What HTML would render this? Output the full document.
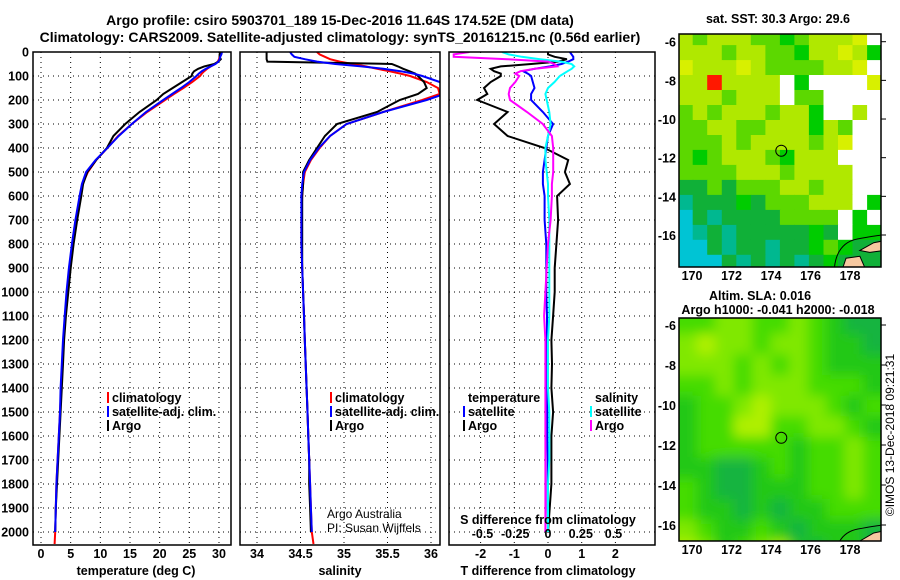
<!DOCTYPE html>
<html><head><meta charset="utf-8"><style>
body{margin:0;background:#fff}
svg{display:block;font-family:"Liberation Sans",sans-serif}
.b{font-weight:bold;font-size:12.5px}
</style></head><body>
<svg id="s" width="900" height="580" viewBox="0 0 900 580" xmlns="http://www.w3.org/2000/svg">
<defs>
<clipPath id="c1"><rect x="33" y="52" width="198" height="493"/></clipPath>
<clipPath id="c2"><rect x="240" y="52" width="200" height="493"/></clipPath>
<clipPath id="c3"><rect x="449" y="52" width="206" height="493"/></clipPath>
<clipPath id="cm1"><rect x="679" y="34" width="202" height="233"/></clipPath>
<clipPath id="cm2"><rect x="679" y="318" width="202" height="223"/></clipPath>
<filter id="bl" x="0" y="0" width="100%" height="100%"><feGaussianBlur stdDeviation="6"/></filter>
</defs>
<text x="340" y="25" text-anchor="middle" font-size="14" font-weight="bold">Argo profile: csiro 5903701_189 15-Dec-2016 11.64S 174.52E (DM data)</text>
<text x="340" y="42" text-anchor="middle" font-size="14" font-weight="bold">Climatology: CARS2009. Satellite-adjusted climatology: synTS_20161215.nc (0.56d earlier)</text>
</svg>
<script>
const depths=[0,10,20,30,40,50,60,70,80,90,100,125,150,175,200,250,300,350,400,450,500,550,600,700,800,900,1000,1100,1200,1300,1400,1500,1600,1700,1800,1900,2000,2050];
const tClim=[30.2,30.2,30.1,30.0,29.8,29.3,28.6,28.0,27.5,27.1,26.8,25.5,24.0,22.4,20.9,17.9,15.3,13.0,11.2,9.3,7.9,7.0,6.6,5.9,5.3,4.8,4.4,4.1,3.8,3.6,3.4,3.2,3.0,2.8,2.6,2.5,2.4,2.3];
const tSat=[30.5,30.4,30.2,30.1,29.9,29.4,28.6,27.8,27.1,26.6,26.2,25.0,23.6,22.1,20.6,17.7,15.3,13.1,11.2,9.2,7.6,6.9,6.5,5.8,5.2,4.7,4.3,4.0,3.7,3.5,3.3,3.2,3.0,2.8,2.6,2.5,2.4,null];
const tArgo=[30.2,30.1,30.1,30.3,29.9,29.2,27.5,26.5,25.8,25.5,25.4,23.8,22.2,20.6,19.5,16.6,14.2,12.2,11.1,9.3,7.8,7.1,6.8,6.1,5.5,5.0,4.6,4.2,3.9,3.7,3.5,3.3,3.1,2.9,2.7,2.5,2.4,null];
const sClim=[34.69,34.72,34.78,34.84,34.95,35.1,35.25,35.38,35.52,35.65,35.76,35.95,36.08,36.1,35.9,35.45,35.03,34.84,34.72,34.62,34.55,34.53,34.52,34.51,34.51,34.52,34.53,34.54,34.55,34.56,34.57,34.58,34.59,34.6,34.61,34.62,34.63,34.65];
const sSat=[34.38,34.4,34.43,34.55,34.69,34.9,35.2,35.45,35.65,35.8,35.9,36.1,36.2,36.15,35.95,35.45,35.03,34.84,34.71,34.61,34.54,34.52,34.51,34.51,34.51,34.52,34.53,34.54,34.55,34.56,34.57,34.58,34.59,34.6,34.61,34.62,34.63,null];
const sArgo=[34.11,34.11,34.11,34.11,34.12,35.55,35.62,35.68,35.75,35.82,35.85,35.92,35.95,35.85,35.64,35.38,34.92,34.78,34.69,34.6,34.53,34.53,34.52,34.52,34.52,34.52,34.53,34.54,34.55,34.56,34.57,34.58,34.59,34.6,34.6,34.61,34.62,null];
const tDiffArgo=[0,0,0.2,0.56,0.3,-0.5,-1.4,-1.7,-1.6,-1.4,-1.4,-1.7,-1.9,-1.8,-2.1,-1.2,-1.6,-1.2,-0.1,0.6,0.5,0.65,0.27,0.3,0.25,0.2,0.2,0.15,0.1,0.12,0.1,0.15,0.1,0.1,0.1,0.05,0.0,null];
const tDiffSat=[0.65,0.7,0.75,0.75,0.6,0.4,0.06,-0.4,-0.74,-0.6,-0.5,-0.45,-0.4,-0.5,-0.5,-0.15,0.15,0.0,-0.05,-0.1,-0.15,-0.15,-0.1,-0.1,-0.05,-0.05,-0.05,-0.03,-0.03,-0.02,-0.02,-0.02,-0.02,-0.01,-0.01,-0.01,0,null];
const sDiffSat=[-0.35,-0.3,-0.2,-0.06,0.1,0.18,0.2,0.18,0.15,0.12,0.09,0.05,0.0,-0.02,-0.01,0.01,0.02,0.0,-0.02,-0.02,-0.01,0,0,0.01,0.01,0.01,0.01,0.01,0,0,0,0.01,0.01,0.01,0,0,0,null];
const sDiffArgo=[-0.6,-0.72,-0.72,-0.31,0.0,0.05,0.07,-0.1,-0.21,-0.25,-0.22,-0.25,-0.29,-0.3,-0.29,-0.16,-0.04,0.03,0.04,0.04,0.04,0.03,0.03,0.02,0,-0.01,-0.02,-0.03,-0.02,-0.02,-0.02,-0.02,-0.02,-0.02,-0.02,-0.02,-0.02,null];
const depthTicks=[0,100,200,300,400,500,600,700,800,900,1000,1100,1200,1300,1400,1500,1600,1700,1800,1900,2000];
const tTicks=[0,5,10,15,20,25,30];
const sTicks=[34,34.5,35,35.5,36];
const sTickLabels=["34","34.5","35","35.5","36"];
const dTTicks=[-2,-1,0,1,2];
const dSTicks=[-0.5,-0.25,0,0.25,0.5];
const dSTickLabels=["-0.5","-0.25","0","0.25","0.5"];
const lonTicks=[170,172,174,176,178];
const latTicks=[-6,-8,-10,-12,-14,-16];
const sstGrid=["ygyyyggGgyyyY.","yyygyyggGyyYyG","YyyyYyggggyyY.","yyRyyyy.G....Y","yyygyyy.gg....","gygyyygyyG..y.","ggyyggyyyGyg..","gggygyyyygyY..","gGgyyygGyyy...","ggggyyygyyyy..","ddgdgggyygyy..","tdddGdgggyyy.G","cdtddddgggg.G.","ctdtdddddGd.GG","ccdtddtddGgGdd","cccdtdtdtdGddd"];
const slaGrid=["ggllgglgGdd","lyllgllgGGd","lllglglgGGG","gglglllgggG","GgglylllgGg","GggyyggllgG","GgggggGgglg","GGddGgGgglg","gGddGGGgglg","gGGdGdGGggg","lgGGgGdGGGd","ylGglyGdGGd"];
const argoLon=174.52, argoLat=-11.64;

const NS="http://www.w3.org/2000/svg", S=document.getElementById('s');
function mk(t,a,p){const e=document.createElementNS(NS,t);for(const k in a)e.setAttribute(k,a[k]);(p||S).appendChild(e);return e;}
const yD=d=>52+d*0.24;
const P=[{x0:33,x1:231,f:v=>41+v*5.933,c:'c1'},{x0:240,x1:440,f:v=>257+(v-34)*87,c:'c2'},{x0:449,x1:655,f:v=>548+v*33.7,c:'c3'}];
const fS3=v=>548+v*131;
function grid(p,xs,fx){
 const g=mk('g',{});
 
 
 xs.forEach(v=>mk('line',{x1:fx(v),x2:fx(v),y1:52,y2:545,stroke:'#000','stroke-width':1,'stroke-dasharray':'1,4'},g));
 depthTicks.forEach(d=>mk('line',{x1:p.x0,x2:p.x1,y1:yD(d),y2:yD(d),stroke:'#000','stroke-width':1,'stroke-dasharray':'1,4'},g));
}
function line(vals,fx,col,clip,name){
 let d='';let pen=false;
 vals.forEach((v,i)=>{if(v===null){pen=false;return;}d+=(pen?'L':'M')+fx(v).toFixed(1)+','+yD(depths[i]).toFixed(1);pen=true;});
 const e=mk('path',{d:d,fill:'none',stroke:col,'stroke-width':2,'clip-path':'url(#'+clip+')'});
 
 
}
function txt(x,y,s,cls,anchor,extra){const e=mk('text',Object.assign({x:x,y:y,'text-anchor':anchor||'start'},extra||{}));if(cls)e.setAttribute('class',cls);e.textContent=s;return e;}
grid(P[0],tTicks,P[0].f);grid(P[1],sTicks,P[1].f);grid(P[2],dTTicks,P[2].f);
line(tClim,P[0].f,'#f00','c1','temp-climatology-line');
line(tArgo,P[0].f,'#000','c1','temp-argo-line');
line(tSat,P[0].f,'#00f','c1','temp-satellite-line');
line(sClim,P[1].f,'#f00','c2','sal-climatology-line');
line(sArgo,P[1].f,'#000','c2','sal-argo-line');
line(sSat,P[1].f,'#00f','c2','sal-satellite-line');
line(tDiffArgo,P[2].f,'#000','c3','tdiff-argo-line');
line(tDiffSat,P[2].f,'#00f','c3','tdiff-satellite-line');
line(sDiffSat,fS3,'#0ff','c3','sdiff-satellite-line');
line(sDiffArgo,fS3,'#f0f','c3','sdiff-argo-line');
P.forEach((p,i)=>{const r=mk('rect',{x:p.x0,y:52,width:p.x1-p.x0,height:493,fill:'none',stroke:'#000','stroke-width':1.5});
 
 });
depthTicks.forEach(d=>{const e=txt(29,yD(d)+4.5,String(d),'b','end');
 
 });
tTicks.forEach(v=>{const e=txt(P[0].f(v),558,String(v),'b','middle');
 
 });
sTicks.forEach((v,i)=>{const e=txt(P[1].f(v),558,sTickLabels[i],'b','middle');
 
 });
dTTicks.forEach(v=>{const e=txt(P[2].f(v),558,String(v),'b','middle');
 
 });
dSTicks.forEach((v,i)=>{const e=txt(fS3(v),538,dSTickLabels[i],'b','middle');
 
 });
[[136,'temperature (deg C)'],[340,'salinity'],[548,'T difference from climatology']].forEach(a=>{const e=txt(a[0],575,a[1],'b','middle');
 
 });
{const e=txt(548,524,'S difference from climatology','b','middle');
 
 }
function leg(x,y,col,label){
 if(col)mk('rect',{x:x-5,y:y-10,width:2,height:11,fill:col});
 const e=txt(x,y,label,'b');
 
 
}
leg(112,402,'#f00','climatology');leg(112,416,'#00f','satellite-adj. clim.');leg(112,430,'#000','Argo');
leg(335,402,'#f00','climatology');leg(335,416,'#00f','satellite-adj. clim.');leg(335,430,'#000','Argo');
leg(468,402,null,'temperature');leg(468,416,'#00f','satellite');leg(468,430,'#000','Argo');
leg(595,402,null,'salinity');leg(595,416,'#0ff','satellite');leg(595,430,'#f0f','Argo');
{const e=txt(327,518,'Argo Australia',null,'start',{'font-size':12});
 
 
 const f=txt(327,532,'PI: Susan Wijffels',null,'start',{'font-size':12});
 
 }
const M=[{x0:679,x1:881,y0:34,y1:267,latY:l=>41.7+(-6-l)*19.33,clip:'cm1'},{x0:679,x1:881,y0:318,y1:541,latY:l=>325+(-6-l)*20,clip:'cm2'}];
const lonX=l=>692+(l-170)*19.75;
const sstCol={y:'#b0e800',Y:'#d8f000',R:'#ff1800',g:'#5cd800',G:'#00cc00',d:'#10b038',t:'#00b890',c:'#00c4d4','.':'#ffffff'};
const slaCol={y:'#b0f000',l:'#80e800',g:'#44dc00',G:'#20c814',d:'#14b440'};
function drawGrid(m,grid,cols,blur,name){
 const g=mk('g',{'clip-path':'url(#'+m.clip+')'});
 
 
 const inner=mk('g',blur?{filter:'url(#bl)'}:{},g);
 const nr=grid.length,nc=grid[0].length;
 const latTop=-5.4,latBot=-17.8,lonL=169.3,lonR=179.6;
 const pad=blur?1:0;
 for(let r=-pad;r<nr+pad;r++)for(let c=-pad;c<nc+pad;c++){
  const ch=grid[Math.min(nr-1,Math.max(0,r))][Math.min(nc-1,Math.max(0,c))];
  const la0=latTop+(latBot-latTop)*r/nr, la1=latTop+(latBot-latTop)*(r+1)/nr;
  const lo0=lonL+(lonR-lonL)*c/nc, lo1=lonL+(lonR-lonL)*(c+1)/nc;
  const x=lonX(lo0),y=m.latY(la0);
  mk('rect',{x:x.toFixed(1),y:y.toFixed(1),width:(lonX(lo1)-x+0.6).toFixed(1),height:(m.latY(la1)-y+0.6).toFixed(1),fill:cols[ch]},inner);
 }
 mk('path',{d:`M${lonX(177.6)},${m.latY(-17.8)} L${lonX(177.8)},${m.latY(-17.2)} L${lonX(178.5)},${m.latY(-17.1)} L${lonX(178.8)},${m.latY(-17.8)} Z`,fill:'#f6c8a0',stroke:'#000','stroke-width':1},g);
 mk('path',{d:`M${lonX(178.5)},${m.latY(-16.8)} L${lonX(179.2)},${m.latY(-16.4)} L${lonX(179.7)},${m.latY(-16.3)} L${lonX(179.7)},${m.latY(-16.8)} L${lonX(179.0)},${m.latY(-16.9)} Z`,fill:'#f6c8a0',stroke:'#000','stroke-width':1},g);
 mk('path',{d:`M${lonX(177.2)},${m.latY(-17.8)} Q${lonX(177.3)},${m.latY(-16.4)} ${lonX(178.4)},${m.latY(-16.2)} T${lonX(179.7)},${m.latY(-16.0)}`,fill:'none',stroke:'#000','stroke-width':1},g);
 const ci=mk('circle',{cx:lonX(argoLon),cy:m.latY(argoLat),r:5.5,fill:'none',stroke:'#000','stroke-width':1});
 
 
 const fr=mk('rect',{x:m.x0,y:m.y0,width:m.x1-m.x0,height:m.y1-m.y0,fill:'none',stroke:'#000','stroke-width':1.5});
 
 
 latTicks.forEach(l=>{const y=m.latY(l);
  mk('line',{x1:m.x1,x2:m.x1+5,y1:y,y2:y,stroke:'#000'});
  const e=txt(m.x0-3,y+5,String(l),'b','end');
  
  });
 lonTicks.forEach(l=>{const e=txt(lonX(l),m.y1+13,String(l),'b','middle');
  
  });
}
drawGrid(M[0],sstGrid,sstCol,false,'sst-map');
drawGrid(M[1],slaGrid,slaCol,true,'sla-map');
[[778,23,'sat. SST: 30.3 Argo: 29.6','sst-map-title'],[760,300,'Altim. SLA: 0.016','sla-map-title'],[778,314,'Argo h1000: -0.041 h2000: -0.018','sla-map-subtitle']].forEach(a=>{
 const e=txt(a[0],a[1],a[2],'b','middle');
 
 });
{const e=txt(0,0,'©IMOS 13-Dec-2018 09:21:31',null,'middle',{'font-size':12,transform:'translate(894,435) rotate(-90)'});
 
 }
</script>
</body></html>
